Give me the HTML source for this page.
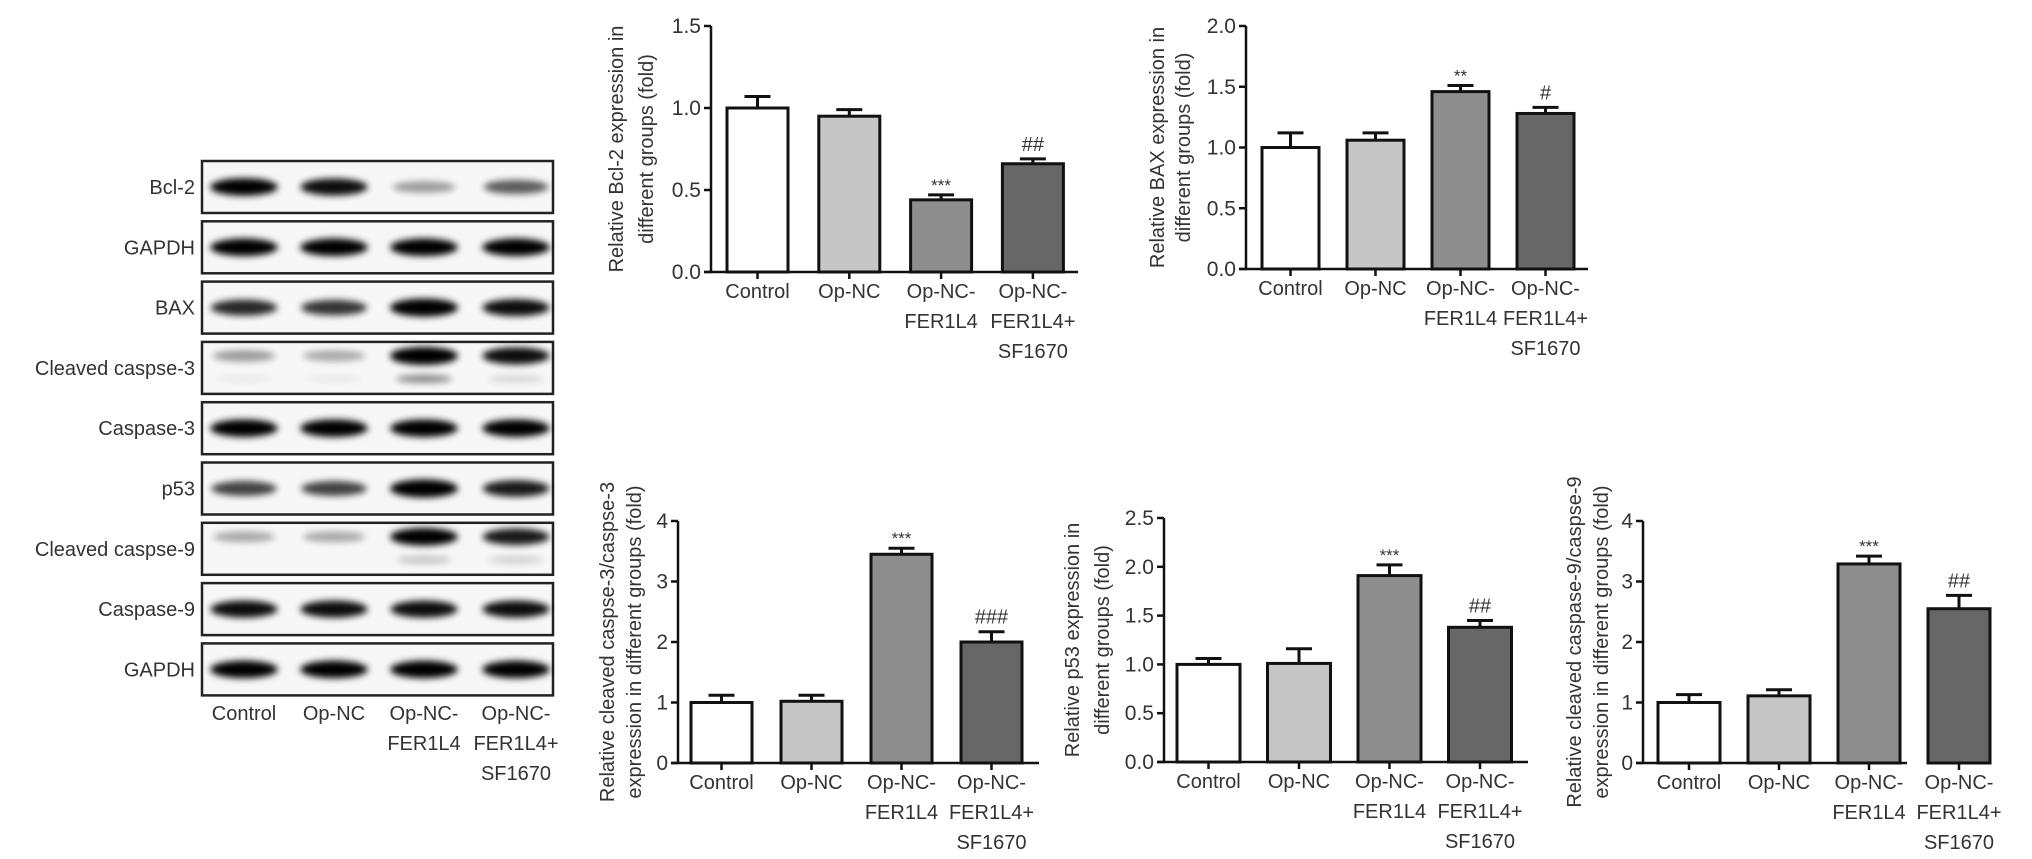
<!DOCTYPE html>
<html><head><meta charset="utf-8"><style>
html,body{margin:0;padding:0;background:#fff;}
svg{display:block;font-family:"Liberation Sans",Arial,sans-serif;}
</style></head><body>
<svg id="fig" width="2032" height="859" viewBox="0 0 2032 859">
<defs>
<filter id="blur" x="-30%" y="-100%" width="160%" height="300%"><feGaussianBlur stdDeviation="3.5"/></filter>
</defs>
<g id="blot"></g>
<g id="charts"></g>
</svg>
<script>
// ---------- chart data ----------
const categories = [["Control"],["Op-NC"],["Op-NC-","FER1L4"],["Op-NC-","FER1L4+","SF1670"]];
const bcl2Values = [1.0, 0.95, 0.44, 0.66];
const bcl2Errors = [0.07, 0.04, 0.03, 0.03];
const bcl2Marks = ["", "", "***", "##"];
const baxValues = [1.0, 1.06, 1.46, 1.28];
const baxErrors = [0.12, 0.06, 0.05, 0.05];
const baxMarks = ["", "", "**", "#"];
const casp3Values = [1.0, 1.02, 3.45, 2.0];
const casp3Errors = [0.12, 0.1, 0.1, 0.17];
const casp3Marks = ["", "", "***", "###"];
const p53Values = [1.0, 1.01, 1.91, 1.38];
const p53Errors = [0.06, 0.15, 0.11, 0.07];
const p53Marks = ["", "", "***", "##"];
const casp9Values = [1.0, 1.11, 3.29, 2.55];
const casp9Errors = [0.13, 0.1, 0.13, 0.22];
const casp9Marks = ["", "", "***", "##"];
const bcl2Ticks = [0, 0.5, 1.0, 1.5];
const baxTicks = [0, 0.5, 1.0, 1.5, 2.0];
const casp3Ticks = [0, 1, 2, 3, 4];
const p53Ticks = [0, 0.5, 1.0, 1.5, 2.0, 2.5];
const casp9Ticks = [0, 1, 2, 3, 4];
const barFills = ["#ffffff", "#c6c6c6", "#8e8e8e", "#676767"];

// blot intensities (0..1) per row per lane
const blotLabels = ["Bcl-2","GAPDH","BAX","Cleaved caspse-3","Caspase-3","p53","Cleaved caspse-9","Caspase-9","GAPDH"];
const blotMain = [[0.95,0.9,0.35,0.6],[0.95,0.95,0.95,0.95],[0.8,0.75,1.0,0.9],[0.35,0.3,1.0,0.9],[0.95,0.95,0.95,0.95],[0.7,0.7,1.0,0.85],[0.3,0.3,0.95,0.85],[0.9,0.9,0.9,0.9],[0.95,0.95,0.95,0.95]];
const blotLower = [[0,0,0,0],[0,0,0,0],[0,0,0,0],[0.05,0.05,0.45,0.12],[0,0,0,0],[0,0,0,0],[0,0,0.2,0.15],[0,0,0,0],[0,0,0,0]];

const NS = "http://www.w3.org/2000/svg";
function mk(tag, attrs, parent){const e=document.createElementNS(NS,tag);for(const k in attrs)e.setAttribute(k,attrs[k]);parent.appendChild(e);return e;}

// ---------- blot ----------
const blot = document.getElementById('blot');
const laneX = [244, 334, 424, 516];
blotLabels.forEach((lab, r) => {
  const top = 161 + r * 60.3;
  const g = mk('g', {}, blot);
  
  
  const t = mk('text', {x:195, y:top+33, 'text-anchor':'end', 'font-size':20, fill:'#333'}, g);
  t.textContent = lab;
  
  
  mk('rect', {x:202, y:top, width:351, height:52, fill:'#f7f7f7', stroke:'#222', 'stroke-width':2.5}, g);
  const cleaved = blotLower[r].some(v => v > 0);
  laneX.forEach((cx, l) => {
    const v = blotMain[r][l];
    const cy = cleaved ? top + 14 : top + 26;
    const b = mk('ellipse', {cx:cx, cy:cy, rx:30 + v*4, ry:4 + v*5, fill:'#000', opacity:Math.min(1, v*1.05), filter:'url(#blur)'}, g);
    
    
    const lv = blotLower[r][l];
    if (lv > 0) {
      const b2 = mk('ellipse', {cx:cx, cy:top+37, rx:28, ry:4, fill:'#000', opacity:lv, filter:'url(#blur)'}, g);
      
      
    }
  });
});
categories.forEach((lines, i) => {
  lines.forEach((ln, j) => {
    const t = mk('text', {x:laneX[i], y:720 + j*30, 'text-anchor':'middle', 'font-size':20, fill:'#333'}, blot);
    t.textContent = ln;
    
    
  });
});

// ---------- charts ----------
function chart(cfg) {
  const g = mk('g', {}, document.getElementById('charts'));
  
  
  const ymax = cfg.ticks[cfg.ticks.length - 1];
  const y = v => cfg.y0 - (v / ymax) * (cfg.y0 - cfg.yTop);
  const x = i => cfg.barX0 + i * cfg.pitch;
  cfg.values.forEach((v, i) => {
    const top = y(v), eTop = y(v + cfg.errors[i]), cx = x(i) + cfg.bw/2;
    const eb = mk('line', {x1:cx, x2:cx, y1:top, y2:eTop, stroke:'#111', 'stroke-width':3}, g);
    
    
    mk('line', {x1:cx-13, x2:cx+13, y1:eTop, y2:eTop, stroke:'#111', 'stroke-width':3}, g);
    const r = mk('rect', {x:x(i), y:top, width:cfg.bw, height:cfg.y0 - top, fill:barFills[i], stroke:'#111', 'stroke-width':3}, g);
    
    
    if (cfg.marks[i]) {
      const star = cfg.marks[i].startsWith('*');
      const m = mk('text', {x:cx, y:star ? eTop - 4 : eTop - 8, 'text-anchor':'middle', 'font-size': star ? 17 : 20, fill:'#333'}, g);
      m.textContent = cfg.marks[i];
      
      
    }
    mk('line', {x1:cx, x2:cx, y1:cfg.y0, y2:cfg.y0+7, stroke:'#111', 'stroke-width':2.5}, g);
    categories[i].forEach((ln, j) => {
      const t = mk('text', {x:cx, y:cfg.y0 + 26 + j*30, 'text-anchor':'middle', 'font-size':20, fill:'#333'}, g);
      t.textContent = ln;
      
      
    });
  });
  const ya = mk('line', {x1:cfg.ax, x2:cfg.ax, y1:cfg.yTop, y2:cfg.y0+1, stroke:'#111', 'stroke-width':2.5}, g);
  
  
  const xa = mk('line', {x1:cfg.ax-7, x2:cfg.axEnd, y1:cfg.y0, y2:cfg.y0, stroke:'#111', 'stroke-width':2.5}, g);
  
  
  cfg.ticks.forEach(tv => {
    mk('line', {x1:cfg.ax-7, x2:cfg.ax, y1:y(tv), y2:y(tv), stroke:'#111', 'stroke-width':2.5}, g);
    const t = mk('text', {x:cfg.ax-10, y:y(tv)+7, 'text-anchor':'end', 'font-size':21, fill:'#333'}, g);
    t.textContent = cfg.dec ? tv.toFixed(1) : String(tv);
    
    
  });
  const cy = (cfg.yTop + cfg.y0) / 2 + (cfg.titleShift || 0);
  cfg.title.forEach((ln, j) => {
    const tx = cfg.titleX[j];
    const t = mk('text', {x:tx, y:cy, 'text-anchor':'middle', 'dominant-baseline':'central', 'font-size':20, fill:'#333', transform:'rotate(-90 '+tx+' '+cy+')'}, g);
    t.textContent = ln;
    
    
  });
}

chart({name:'bcl2-chart', values:bcl2Values, errors:bcl2Errors, marks:bcl2Marks, ticks:bcl2Ticks, dec:true,
  ax:711, axEnd:1078, y0:272, yTop:26, barX0:727, pitch:91.8, bw:61,
  title:["Relative Bcl-2 expression in","different groups (fold)"], titleX:[617,647], titleShift:0});
chart({name:'bax-chart', values:baxValues, errors:baxErrors, marks:baxMarks, ticks:baxTicks, dec:true,
  ax:1246, axEnd:1588, y0:269, yTop:26, barX0:1262, pitch:85, bw:57,
  title:["Relative BAX expression in","different groups (fold)"], titleX:[1158,1184], titleShift:0});
chart({name:'cleaved-caspase3-chart', values:casp3Values, errors:casp3Errors, marks:casp3Marks, ticks:casp3Ticks, dec:false,
  ax:678, axEnd:1039, y0:763, yTop:521, barX0:691, pitch:90, bw:61,
  title:["Relative cleaved caspse-3/caspse-3","expression in different groups (fold)"], titleX:[608,635], titleShift:0});
chart({name:'p53-chart', values:p53Values, errors:p53Errors, marks:p53Marks, ticks:p53Ticks, dec:true,
  ax:1164, axEnd:1528, y0:762, yTop:518, barX0:1177, pitch:90.5, bw:63,
  title:["Relative p53 expression in","different groups (fold)"], titleX:[1073,1103], titleShift:0});
chart({name:'cleaved-caspase9-chart', values:casp9Values, errors:casp9Errors, marks:casp9Marks, ticks:casp9Ticks, dec:false,
  ax:1643, axEnd:1907, y0:763, yTop:521, barX0:1658, pitch:90, bw:62,
  title:["Relative cleaved caspase-9/caspse-9","expression in different groups (fold)"], titleX:[1575,1602], titleShift:0});
</script>
</body></html>
